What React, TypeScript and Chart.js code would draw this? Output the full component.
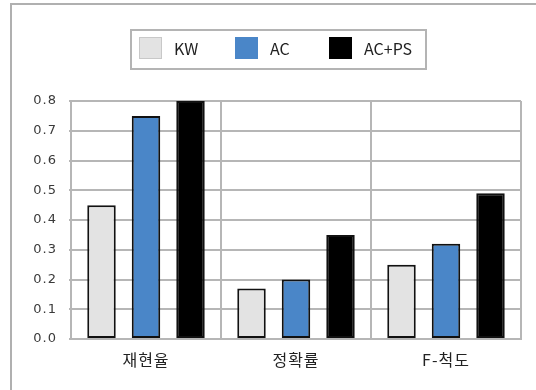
import React, { useEffect, useRef } from "react";
import { Chart, registerables } from "chart.js";

Chart.register(...registerables);

const categories = ["재현율", "정확률", "F-척도"];
const seriesNames = ["KW", "AC", "AC+PS"];
const kwValues = [0.45, 0.17, 0.25];
const acValues = [0.75, 0.2, 0.32];
const acpsValues = [0.8, 0.35, 0.49];
const seriesColors = ["#e3e3e3", "#4a86c8", "#000000"];

const GRID = "#b6b6b6";

const framePlugin = {
  id: "frame",
  beforeDraw(chart: any) {
    const ctx = chart.ctx;
    ctx.save();
    ctx.fillStyle = "#ffffff";
    ctx.fillRect(0, 0, chart.width, chart.height);
    ctx.strokeStyle = "#b0b0b0";
    ctx.lineWidth = 2;
    ctx.strokeRect(11, 4, 700, 600);
    ctx.restore();
    ctx.letterSpacing = "1px";
  },
};

const boxLegendPlugin = {
  id: "boxLegend",
  afterDraw(chart: any) {
    const ctx = chart.ctx;
    ctx.save();
    ctx.letterSpacing = "0px";
    ctx.strokeStyle = "#b4b4b4";
    ctx.lineWidth = 2;
    ctx.strokeRect(131, 30, 295, 39);
    const swX = [139, 235, 329];
    ctx.font = "16px 'Noto Sans CJK KR', 'Liberation Sans', sans-serif";
    ctx.textBaseline = "middle";
    ctx.textAlign = "left";
    chart.data.datasets.forEach((ds: any, i: number) => {
      const x = swX[i];
      ctx.fillStyle = ds.backgroundColor;
      ctx.fillRect(x, 37, 23, 22);
      if (i === 0) {
        ctx.strokeStyle = "#c8c8c8";
        ctx.lineWidth = 1;
        ctx.strokeRect(x + 0.5, 37.5, 22, 21);
      }
      ctx.fillStyle = "#222222";
      ctx.fillText(ds.label, x + 35, 49);
    });
    ctx.restore();
  },
};

export default function App() {
  const ref = useRef<HTMLCanvasElement>(null);
  useEffect(() => {
    document.body.style.margin = "0";
    const values = [kwValues, acValues, acpsValues];
    const chart = new Chart(ref.current as HTMLCanvasElement, {
      type: "bar",
      data: {
        labels: categories,
        datasets: seriesNames.map((name, i) => ({
          label: name,
          data: values[i],
          backgroundColor: seriesColors[i],
          borderColor: "#111111",
          borderWidth: 2,
          borderSkipped: false,
          categoryPercentage: 0.89,
          barPercentage: 0.64,
        })),
      },
      options: {
        animation: false,
        responsive: false,
        layout: { padding: { left: 0, right: 15, top: 101, bottom: 0 } },
        plugins: { legend: { display: false }, tooltip: { enabled: false } },
        scales: {
          x: {
            grid: { color: GRID, lineWidth: 2, offset: true, drawTicks: false },
            border: { color: GRID, width: 2 },
            ticks: {
              padding: 11,
              color: "#222222",
              font: { family: "'Noto Sans CJK KR', sans-serif", size: 16 },
            },
            afterFit(scale: any) {
              scale.height = 51;
            },
          },
          y: {
            min: 0,
            max: 0.8,
            grid: { color: GRID, lineWidth: 2, tickLength: 2 },
            border: { color: GRID, width: 2 },
            ticks: {
              stepSize: 0.1,
              padding: 12,
              color: "#3a3a3a",
              font: { family: "'DejaVu Sans', sans-serif", size: 13 },
              callback: (v: any) => Number(v).toFixed(1),
            },
            afterFit(scale: any) {
              scale.width = 71;
            },
          },
        },
      },
      plugins: [framePlugin, boxLegendPlugin],
    });
    return () => chart.destroy();
  }, []);
  return (
    <div style={{ position: "relative", width: 536, height: 390 }}>
      <canvas ref={ref} width={536} height={390} />
    </div>
  );
}
